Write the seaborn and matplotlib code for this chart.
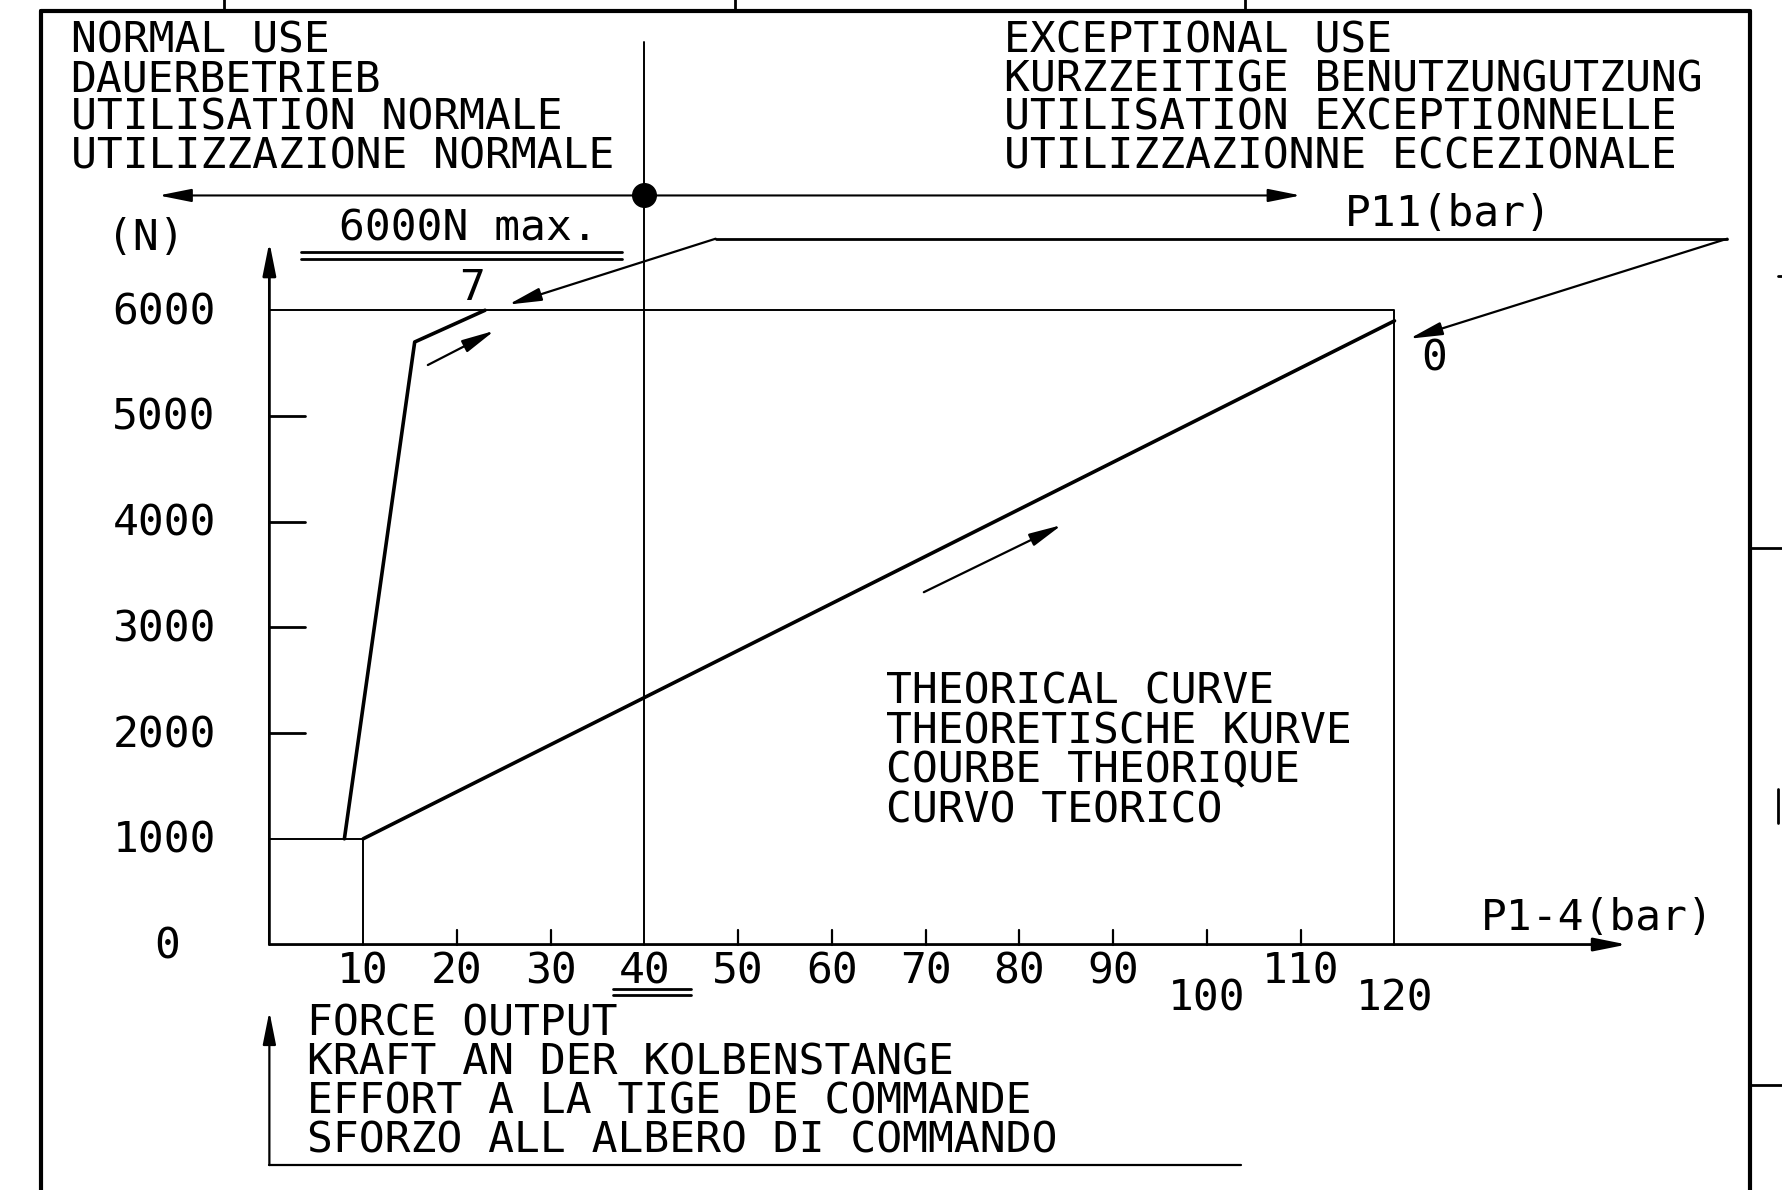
import matplotlib
matplotlib.use("Agg")
import matplotlib.pyplot as plt
import seaborn as sns
import pandas as pd

sns.set_theme(style="white")
plt.rcParams['font.family'] = ['DejaVu Sans Mono', 'DejaVu Sans']

# --- data (x in bar, y in N) ---
p14_bar = [10, 120]
p14_force = [1000, 5900]
p11_bar = [8, 15.5, 23]
p11_force = [1000, 5700, 6000]

x_ticks = [10, 20, 30, 40, 50, 60, 70, 80, 90, 100, 110, 120]
x_low_labels = [100, 120]
y_ticks = [0, 1000, 2000, 3000, 4000, 5000, 6000]
force_max = 6000
p11_scale_max = 7
p11_scale_min = 0
normal_limit = 40

normal_text = ["NORMAL USE", "DAUERBETRIEB", "UTILISATION NORMALE", "UTILIZZAZIONE NORMALE"]
except_text = ["EXCEPTIONAL USE", "KURZZEITIGE BENUTZUNGUTZUNG",
               "UTILISATION EXCEPTIONNELLE", "UTILIZZAZIONNE ECCEZIONALE"]
curve_text = ["THEORICAL CURVE", "THEORETISCHE KURVE", "COURBE THEORIQUE", "CURVO TEORICO"]
force_text = ["FORCE OUTPUT", "KRAFT AN DER KOLBENSTANGE",
              "EFFORT A LA TIGE DE COMMANDE", "SFORZO ALL ALBERO DI COMMANDO"]

df_p14 = pd.DataFrame({"bar": p14_bar, "N": p14_force})
df_p11 = pd.DataFrame({"bar": p11_bar, "N": p11_force})

fig = plt.figure(figsize=(17.82, 11.90), dpi=100)
ax = fig.add_axes([0, 0, 1, 1])
ax.set_xlim(-28.73, 161.33)
ax.set_ylim(-2322, 8935)
ax.axis("off")

K = "black"
FS = 31
thin = 1.4
thick = 2.6
CAP = 132  # half cap height in data units, to put text baselines

def txt(x, y, s, ha="left"):
    ax.text(x, y - CAP, s, ha=ha, va="baseline", fontsize=FS, color=K)

def arrow(x0, y0, x1, y1, lw=1.5, hl=1.0, hw=0.2):
    ax.annotate("", xy=(x1, y1), xytext=(x0, y0),
                arrowprops=dict(arrowstyle="-|>,head_length=%s,head_width=%s" % (hl, hw),
                                color=K, lw=lw, shrinkA=0, shrinkB=0, mutation_scale=20))

# theoretical curves
sns.lineplot(data=df_p14, x="bar", y="N", ax=ax, color=K, lw=thick, sort=False, estimator=None)
sns.lineplot(data=df_p11, x="bar", y="N", ax=ax, color=K, lw=thick, sort=False, estimator=None)

# boxes
ax.plot([0, p14_bar[0], p14_bar[0]], [p14_force[0], p14_force[0], 0], color=K, lw=thin)
ax.plot([0, x_ticks[-1], x_ticks[-1]], [force_max, force_max, 0], color=K, lw=thin)

# axes with arrows
arrow(0, 0, 144.8, 0, lw=2.0)
arrow(0, 0, 0, 6645, lw=2.0)

# ticks
for t in y_ticks[2:-1]:
    ax.plot([0, 3.8], [t, t], color=K, lw=2.0)
for t in x_ticks:
    if t in (x_ticks[0], normal_limit, x_ticks[-1]):
        continue
    ax.plot([t, t], [0, 140], color=K, lw=1.6)

for t in y_ticks:
    if t == 0:
        txt(-10.9, t, "0", ha="center")
    else:
        txt(-5.7, t, str(t), ha="right")
for t in x_ticks:
    yy = -495 if t in x_low_labels else -237
    txt(t, yy, str(t), ha="center")
ax.plot([36.7, 45], [-419, -419], color=K, lw=2.0)
ax.plot([36.7, 45], [-473, -473], color=K, lw=2.0)

txt(-13.2, 6699, "(N)", ha="center")
txt(141.6, 269, "P1-4(bar)", ha="center")
txt(125.8, 6925, "P11(bar)", ha="center")

# 6000N max.
txt(21.2, 6796, "%dN max." % force_max, ha="center")
ax.plot([3.4, 37.6], [6548, 6548], color=K, lw=2.0)
ax.plot([3.4, 37.6], [6484, 6484], color=K, lw=2.0)

# normal / exceptional divider
ax.plot([normal_limit, normal_limit], [0, 8538], color=K, lw=thin)
arrow(normal_limit, 7086, -11.8, 7086, lw=1.5)
arrow(normal_limit, 7086, 110, 7086, lw=1.5)
ax.plot([normal_limit], [7086], "o", color=K, ms=17)

# P11 scale
ax.plot([47.6, 155.5], [6677, 6677], color=K, lw=2.0)
arrow(47.6, 6677, 25.5, 6054, lw=1.6)
arrow(155.5, 6677, 121.6, 5731, lw=1.6)
txt(21.6, 6226, str(p11_scale_max), ha="center")
txt(124.2, 5559, str(p11_scale_min), ha="center")

# direction arrows
arrow(16.9, 5482, 24.0, 5806, lw=1.6)
arrow(69.8, 3333, 84.5, 3968, lw=1.6)

# text blocks
line_gap = 366
for i, s in enumerate(normal_text):
    txt(-21.2, 8570 - i * line_gap, s)
for i, s in enumerate(except_text):
    txt(78.4, 8570 - i * line_gap, s)
for i, s in enumerate(curve_text):
    txt(65.8, 2409 - i * 373, s)
for i, s in enumerate(force_text):
    txt(4.0, -731 - i * 369, s)

arrow(0, -2086, 0, -634, lw=1.6)
ax.plot([0, 103.6], [-2086, -2086], color=K, lw=1.6)

# drawing frame
ax.plot([-24.4, 157.9], [8828, 8828], color=K, lw=3.0)
ax.plot([-24.4, -24.4], [8828, -2400], color=K, lw=3.0)
ax.plot([157.9, 157.9], [8828, -2400], color=K, lw=3.0)
for xs in [-4.85, 49.7, 104.1]:
    ax.plot([xs, xs], [8828, 9000], color=K, lw=2.0)
for ys in [3753, -1333]:
    ax.plot([157.9, 161.4], [ys, ys], color=K, lw=2.0)
ax.plot([160.9, 161.4], [6323, 6323], color=K, lw=2.0)
ax.plot([160.9, 160.9], [1475, 1150], color=K, lw=2.0)

fig.savefig("out.png", dpi=100)
